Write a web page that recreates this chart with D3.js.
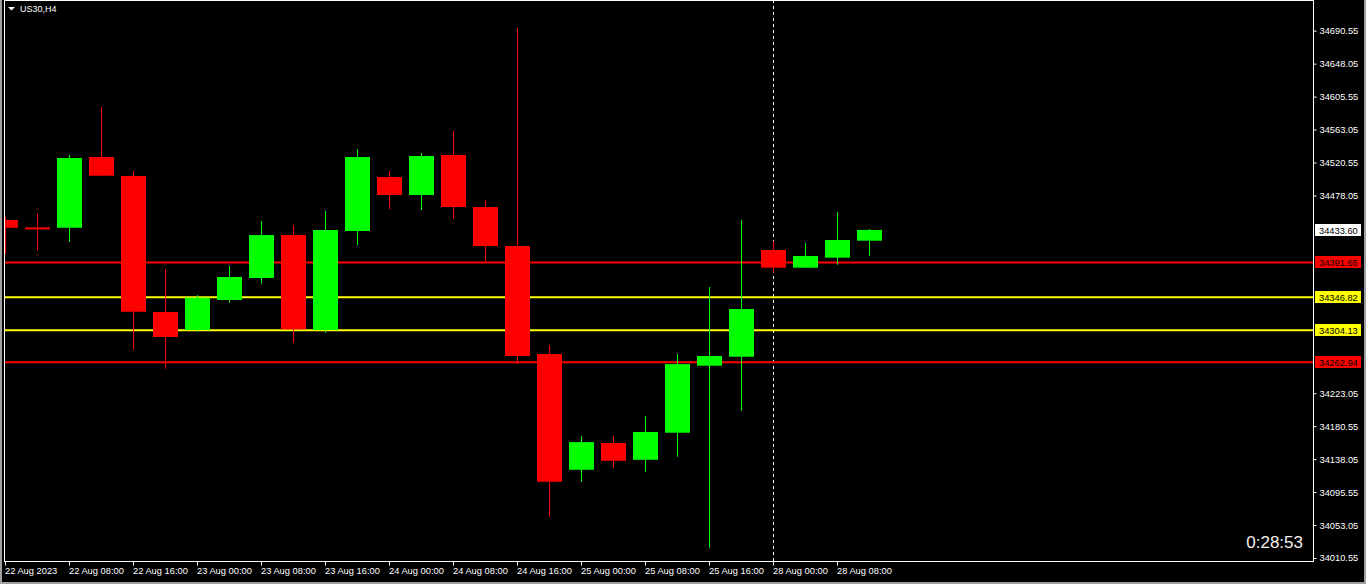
<!DOCTYPE html>
<html>
<head>
<meta charset="utf-8">
<script src="https://cdn.jsdelivr.net/npm/d3@7"></script>
<style>
  html, body { margin: 0; padding: 0; background: #000; overflow: hidden; }
  svg { display: block; }
  text { font-family: "Liberation Sans", Arial, sans-serif; }
</style>
</head>
<body>
<svg id="chart" width="1366" height="584"></svg>
<script>
// US30 H4 candles, 22 Aug 00:00 .. 28 Aug 12:00
const times = [
  '22 Aug 2023', '22 Aug 04:00', '22 Aug 08:00', '22 Aug 12:00', '22 Aug 16:00', '22 Aug 20:00',
  '23 Aug 00:00', '23 Aug 04:00', '23 Aug 08:00', '23 Aug 12:00', '23 Aug 16:00', '23 Aug 20:00',
  '24 Aug 00:00', '24 Aug 04:00', '24 Aug 08:00', '24 Aug 12:00', '24 Aug 16:00', '24 Aug 20:00',
  '25 Aug 00:00', '25 Aug 04:00', '25 Aug 08:00', '25 Aug 12:00', '25 Aug 16:00', '25 Aug 20:00',
  '28 Aug 00:00', '28 Aug 04:00', '28 Aug 08:00', '28 Aug 12:00'
];
const opens = [
  34446.4, 34436.9, 34436.4, 34527.6, 34503.1, 34327.7, 34304.5, 34343.2, 34371.6, 34427.0,
  34304.5, 34432.2, 34501.8, 34478.6, 34530.2, 34463.1, 34412.8, 34273.5, 34124.3, 34158.8,
  34137.2, 34172.1, 34258.5, 34270.1, 34407.7, 34384.9, 34397.8, 34419.7
];
const highs = [
  34450.6, 34455.0, 34530.2, 34592.1, 34509.6, 34383.2, 34349.6, 34387.0, 34445.1, 34439.9,
  34458.0, 34537.9, 34509.6, 34532.8, 34561.2, 34472.2, 34693.9, 34285.2, 34167.8, 34167.8,
  34193.6, 34273.5, 34360.0, 34446.4, 34419.3, 34416.7, 34456.7, 34434.8
];
const lows = [
  34402.5, 34406.8, 34418.4, 34503.5, 34279.1, 34254.6, 34302.3, 34339.7, 34364.2, 34287.7,
  34301.0, 34414.1, 34460.5, 34459.3, 34447.7, 34392.6, 34260.6, 34063.7, 34108.9, 34126.9,
  34121.8, 34141.1, 34023.7, 34200.4, 34378.4, 34384.9, 34388.7, 34400.3
];
const closes = [
  34436.4, 34436.4, 34526.3, 34503.5, 34328.1, 34295.5, 34346.2, 34372.9, 34427.0, 34305.4,
  34433.5, 34527.6, 34478.6, 34528.9, 34463.1, 34412.8, 34271.0, 34108.9, 34160.0, 34135.9,
  34173.0, 34260.6, 34271.0, 34331.6, 34384.9, 34400.0, 34420.6, 34433.60
];

// horizontal levels
const levelPrices = [34391.65, 34346.82, 34304.13, 34262.94];
const levelColors = ['#ff0000', '#ffff00', '#ffff00', '#ff0000'];
const bidPrice = 34433.60;

// price axis ticks
const priceTicks = [
  34010.55, 34053.05, 34095.55, 34138.05, 34180.55, 34223.05, 34265.55, 34308.05, 34350.55,
  34393.05, 34435.55, 34478.05, 34520.55, 34563.05, 34605.55, 34648.05, 34690.55
];
const timeTickIdx = [0, 2, 4, 6, 8, 10, 12, 14, 16, 18, 20, 22, 24, 26];
const sessionIdx = 24;
const symbol = 'US30,H4';
const timer = '0:28:53';

const svg = d3.select('#chart');
const plot = { left: 4.5, top: 0.5, right: 1313.5, bottom: 561.5 };

const x = d3.scaleLinear().domain([0, 27]).range([5, 869]);
const y = d3.scaleLinear().domain([34010.55, 34690.55]).range([558, 30.67]);
const bodyW = 25;

// window edges
svg.append('rect').attr('x', 0).attr('y', 0).attr('width', 1366).attr('height', 584).attr('fill', '#a0a0a0');
svg.append('rect').attr('x', 2).attr('y', 0).attr('width', 1362).attr('height', 582).attr('fill', '#000');

svg.append('clipPath').attr('id', 'plotclip')
  .append('rect')
  .attr('x', plot.left + 0.5).attr('y', plot.top + 0.5)
  .attr('width', plot.right - plot.left - 1).attr('height', plot.bottom - plot.top - 1);

const g = svg.append('g').attr('clip-path', 'url(#plotclip)');

// session separator
g.append('line')
  .attr('x1', Math.round(x(sessionIdx)) + 0.5).attr('x2', Math.round(x(sessionIdx)) + 0.5)
  .attr('y1', 0).attr('y2', plot.bottom)
  .attr('stroke', '#fff').attr('stroke-width', 1).attr('stroke-dasharray', '3,3');

// level lines
g.selectAll('.level')
  .data(levelPrices)
  .enter()
  .append('line')
  .attr('class', 'level')
  .attr('x1', plot.left).attr('x2', plot.right)
  .attr('y1', d => y(d)).attr('y2', d => y(d))
  .attr('stroke', (d, i) => levelColors[i])
  .attr('stroke-width', 2);

// candles
const candles = d3.range(opens.length).map(i => ({
  i: i, o: opens[i], h: highs[i], l: lows[i], c: closes[i]
}));
const col = d => (d.c > d.o ? '#00ff00' : '#ff0000');

g.selectAll('.wick')
  .data(candles)
  .enter()
  .append('line')
  .attr('class', 'wick')
  .attr('x1', d => Math.round(x(d.i)) + 0.5)
  .attr('x2', d => Math.round(x(d.i)) + 0.5)
  .attr('y1', d => y(d.h))
  .attr('y2', d => y(d.l))
  .attr('stroke', col)
  .attr('stroke-width', 1);

g.selectAll('.body')
  .data(candles)
  .enter()
  .append('rect')
  .attr('class', 'body')
  .attr('x', d => Math.round(x(d.i)) - 12)
  .attr('y', d => y(Math.max(d.o, d.c)))
  .attr('width', bodyW)
  .attr('height', d => Math.max(2, y(Math.min(d.o, d.c)) - y(Math.max(d.o, d.c))))
  .attr('fill', col);

// frame
svg.append('rect')
  .attr('x', plot.left).attr('y', plot.top)
  .attr('width', plot.right - plot.left).attr('height', plot.bottom - plot.top)
  .attr('fill', 'none').attr('stroke', '#fff').attr('stroke-width', 1);

// price axis: hide ticks sitting under a price box
const boxPrices = levelPrices.concat([bidPrice]);
const visibleTicks = priceTicks.filter(p => boxPrices.every(b => Math.abs(y(p) - y(b)) > 9));

const yAxis = d3.axisRight(y)
  .tickValues(visibleTicks)
  .tickSize(3)
  .tickPadding(3)
  .tickFormat(d3.format('.2f'));

const ya = svg.append('g')
  .attr('transform', 'translate(' + plot.right + ',0)')
  .call(yAxis);
ya.select('.domain').remove();
ya.selectAll('line').attr('stroke', '#fff');
ya.selectAll('text')
  .attr('fill', '#fff')
  .attr('font-size', '9.3px')
  .attr('font-family', '"Liberation Sans", Arial, sans-serif');

// price boxes
const boxes = levelPrices.map((p, i) => ({ p: p, c: levelColors[i] }))
  .concat([{ p: bidPrice, c: '#ffffff' }]);
const bx = svg.selectAll('.pbox')
  .data(boxes)
  .enter()
  .append('g')
  .attr('class', 'pbox')
  .attr('transform', d => 'translate(1315,' + Math.round(y(d.p)) + ')');
bx.append('rect')
  .attr('x', 0).attr('y', -6)
  .attr('width', 46).attr('height', 12)
  .attr('fill', d => d.c);
bx.append('text')
  .attr('x', 4).attr('y', 3.5)
  .attr('fill', '#000')
  .attr('font-size', '9.3px')
  .text(d => d3.format('.2f')(d.p));

// time axis
const xa = svg.append('g');
xa.selectAll('line')
  .data(timeTickIdx)
  .enter()
  .append('line')
  .attr('x1', d => Math.round(x(d)) + 0.5).attr('x2', d => Math.round(x(d)) + 0.5)
  .attr('y1', plot.bottom).attr('y2', plot.bottom + 4)
  .attr('stroke', '#fff');
xa.selectAll('text')
  .data(timeTickIdx)
  .enter()
  .append('text')
  .attr('x', d => Math.round(x(d)))
  .attr('y', 574)
  .attr('fill', '#fff')
  .attr('font-size', '9.3px')
  .text(d => times[d]);

// title
svg.append('path')
  .attr('d', 'M8,7 L15,7 L11.5,10.5 Z')
  .attr('fill', '#fff');
svg.append('text')
  .attr('x', 20).attr('y', 11.5)
  .attr('fill', '#fff')
  .attr('font-size', '9px')
  .text(symbol);

// bar timer
svg.append('text')
  .attr('x', 1303).attr('y', 548)
  .attr('text-anchor', 'end')
  .attr('fill', '#f0f0f0')
  .attr('font-size', '17px')
  .text(timer);
</script>
</body>
</html>
